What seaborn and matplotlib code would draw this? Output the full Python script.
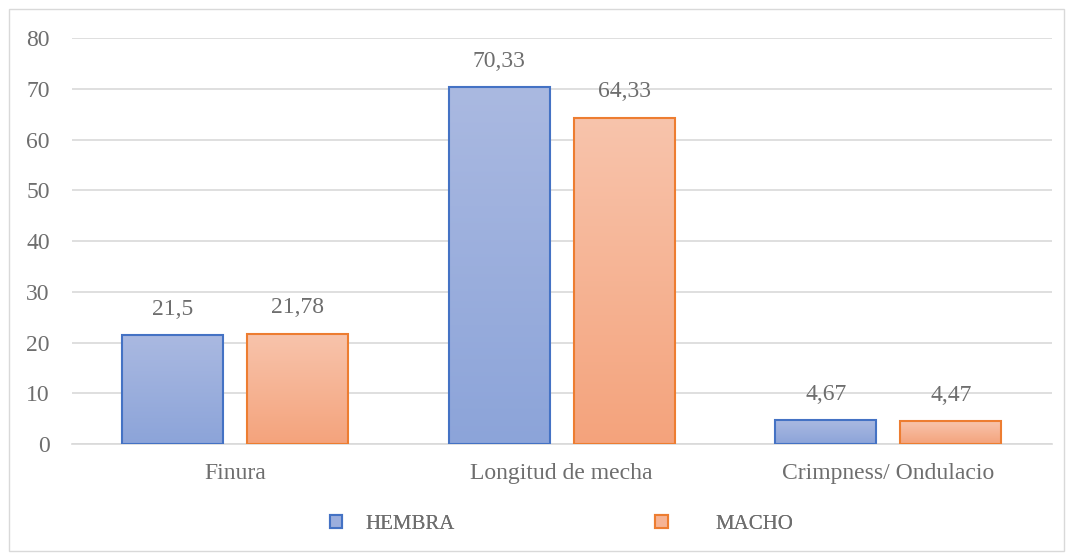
import numpy as np
import pandas as pd
import matplotlib
matplotlib.use("Agg")
import matplotlib.pyplot as plt
import seaborn as sns
from matplotlib.colors import LinearSegmentedColormap
from matplotlib.patches import Patch, Rectangle

# datos
parametros = ["Finura", "Longitud de mecha", "Crimpness/ Ondulacio"]
hembra = [21.5, 70.33, 4.67]
macho = [21.78, 64.33, 4.47]
etiquetas_hembra = ["21,5", "70,33", "4,67"]
etiquetas_macho = ["21,78", "64,33", "4,47"]
series = ["HEMBRA", "MACHO"]

df = pd.DataFrame({
    "parametro": parametros * 2,
    "valor": hembra + macho,
    "sexo": [series[0]] * 3 + [series[1]] * 3,
})

sns.set_style("white")
plt.rcParams["font.family"] = ["Liberation Serif", "DejaVu Serif"]

gris = "#6E6E6E"
bordes = {"HEMBRA": "#4472C4", "MACHO": "#ED7D31"}
rellenos = {"HEMBRA": "#9BAEDD", "MACHO": "#F6B394"}
degradados = {
    "HEMBRA": LinearSegmentedColormap.from_list("h", ["#8CA4D9", "#AAB9E1"]),
    "MACHO": LinearSegmentedColormap.from_list("m", ["#F4A37C", "#F8C4AC"]),
}

fig = plt.figure(figsize=(10.73, 5.54), dpi=100)
ax = fig.add_axes([0.067, 0.1986, 0.913, 0.7324])

sns.barplot(
    data=df,
    x="parametro",
    y="valor",
    hue="sexo",
    palette=bordes,
    width=0.765,
    gap=0.19,
    legend=False,
    ax=ax,
)

ax.set_ylim(0, 80)
xlim = ax.get_xlim()

grad = np.linspace(0, 1, 256).reshape(-1, 1)
for cont, nombre in zip(ax.containers, series):
    for bar in cont:
        x, w, h = bar.get_x(), bar.get_width(), bar.get_height()
        bar.set_facecolor("none")
        bar.set_edgecolor(bordes[nombre])
        bar.set_linewidth(1.5)
        bar.set_zorder(3)
        ax.imshow(
            grad,
            extent=[x, x + w, 0, h],
            origin="lower",
            aspect="auto",
            cmap=degradados[nombre],
            zorder=2,
        )

ax.set_xlim(xlim)
ax.set_ylim(0, 80)

for cont, etiquetas in zip(ax.containers, [etiquetas_hembra, etiquetas_macho]):
    ax.bar_label(cont, labels=etiquetas, padding=11, fontsize=17, color=gris)

ax.set_yticks(range(0, 81, 10))
ax.yaxis.grid(True, color="#D9D9D9", linewidth=1.2, zorder=0)
ax.set_axisbelow(True)
for lado in ["top", "right", "left"]:
    ax.spines[lado].set_visible(False)
ax.spines["bottom"].set_color("#D9D9D9")
ax.spines["bottom"].set_linewidth(1.2)
ax.tick_params(axis="both", length=0, labelsize=17, colors=gris)
ax.tick_params(axis="y", pad=16)
ax.tick_params(axis="x", pad=14)
ax.set_xlabel("")
ax.set_ylabel("")

# leyenda: dos entradas separadas como en el original
posiciones = [(0.3075, 1.1), (0.6105, 2.3)]
for nombre, (xpos, sep) in zip(series, posiciones):
    ley = fig.legend(
        [Patch(facecolor=rellenos[nombre], edgecolor=bordes[nombre], linewidth=1.5)],
        [nombre],
        loc="center left",
        bbox_to_anchor=(xpos, 0.054),
        frameon=False,
        fontsize=15,
        labelcolor=gris,
        handlelength=0.6,
        handleheight=0.6,
        handletextpad=sep,
        borderpad=0,
        borderaxespad=0,
    )
    fig.add_artist(ley)

fig.add_artist(Rectangle((0.008, 0.006), 0.984, 0.978, transform=fig.transFigure,
                         fill=False, edgecolor="#D9D9D9", linewidth=1))

fig.savefig("out.png", dpi=100)
plt.close(fig)
